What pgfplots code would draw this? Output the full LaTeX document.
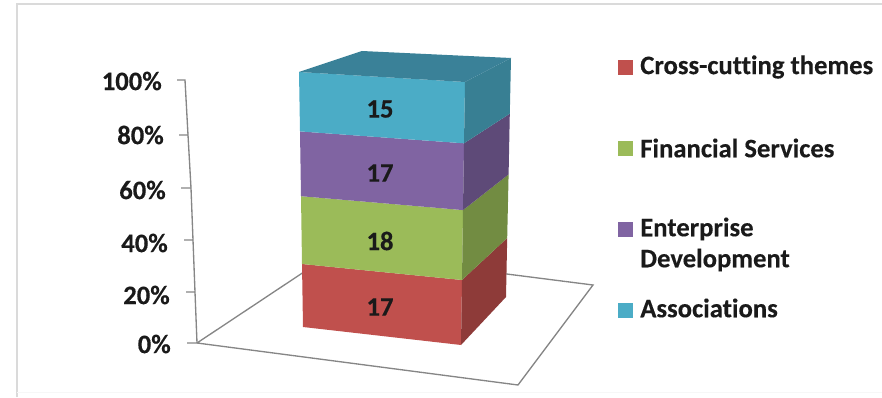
\documentclass[border=0pt]{standalone}
\usepackage{fontspec}
\setmainfont{Carlito}[FakeBold=0.3, Ligatures=NoCommon]
\usepackage{pgfplots}
\pgfplotsset{compat=1.18}
\definecolor{redF}{HTML}{C0504D}\definecolor{redS}{HTML}{8E3B39}
\definecolor{greenF}{HTML}{9BBB59}\definecolor{greenS}{HTML}{728C42}
\definecolor{purpleF}{HTML}{8064A2}\definecolor{purpleS}{HTML}{5E4A78}
\definecolor{blueF}{HTML}{4BACC6}\definecolor{blueS}{HTML}{387F93}
\definecolor{blueT}{HTML}{3A8198}
\definecolor{axisgray}{HTML}{868686}
\definecolor{framegray}{HTML}{DADADA}
\definecolor{textdark}{HTML}{1A1A1A}
\newcommand{\lbl}[1]{\textcolor{textdark}{\fontsize{20}{20}\selectfont\bfseries #1}}
\begin{document}
\begin{tikzpicture}
\begin{axis}[
  hide axis, clip=false,
  x={(0.75pt,0pt)}, y={(0pt,0.75pt)}, z={(0pt,1.9125pt)},
  xmin=0, xmax=882, ymin=0, ymax=142, zmin=0, zmax=100,
  every axis plot/.append style={mark=none},
]
\coordinate (pagesw) at (axis cs:0,0,0);
\coordinate (pagene) at (axis cs:882,397,0);
% chart frame
\addplot3[framegray, line width=0.9pt] coordinates {(17,0,0) (17,393,0) (882,393,0)};
\addplot3[black!3, line width=0.6pt] coordinates {(17,5,0) (882,5,0)};
% floor of the plot
\addplot3[axisgray, line width=1pt] coordinates {(197,54,0) (334,145,0) (593,112,0) (518,12,0) (197,54,0)};
% value axis with its ticks, z in percent
\addplot3[axisgray, line width=1pt] coordinates {
 (185,62,100) (177,62,100) (185,62,100)
 (188,58,80) (179,58,80) (188,58,80)
 (191,56,60) (181,56,60) (191,56,60)
 (193,55,40) (184,55,40) (193,55,40)
 (195,54,20) (186,54,20) (195,54,20)
 (197,54,0) (187,54,0)};
% stacked column: shares 17, 18, 17, 15 of 67, cumulated in z
\addplot3[draw=none, fill=redF] coordinates {(303,70,0) (461,52,0) (462,52.31,25.37) (302,68.31,25.37)} -- cycle;
\addplot3[draw=none, fill=redS] coordinates {(461,52,0) (506,100,0) (507.2,94.31,25.37) (462,52.31,25.37)} -- cycle;
\addplot3[draw=none, fill=greenF] coordinates {(302,68.31,25.37) (462,52.31,25.37) (463,53.69,52.24) (301,67.59,52.24)} -- cycle;
\addplot3[draw=none, fill=greenS] coordinates {(462,52.31,25.37) (507.2,94.31,25.37) (508.6,89.39,52.24) (463,53.69,52.24)} -- cycle;
\addplot3[draw=none, fill=purpleF] coordinates {(301,67.59,52.24) (463,53.69,52.24) (464,55.79,77.61) (300,67.69,77.61)} -- cycle;
\addplot3[draw=none, fill=purpleS] coordinates {(463,53.69,52.24) (508.6,89.39,52.24) (509.8,85.39,77.61) (464,55.79,77.61)} -- cycle;
\addplot3[draw=none, fill=blueF] coordinates {(300,67.69,77.61) (464,55.79,77.61) (465,60,100) (299,70,100)} -- cycle;
\addplot3[draw=none, fill=blueS] coordinates {(464,55.79,77.61) (509.8,85.39,77.61) (511,84,100) (465,60,100)} -- cycle;
\addplot3[draw=none, fill=blueT] coordinates {(299,70,100) (465,60,100) (511,84,100) (362,91,100)} -- cycle;
% legend keys
\addplot3[only marks, mark=square*, mark size=5.4pt, redF, mark options={draw=none}] coordinates {(625.5,330,0)};
\addplot3[only marks, mark=square*, mark size=5.4pt, greenF, mark options={draw=none}] coordinates {(625.5,249,0)};
\addplot3[only marks, mark=square*, mark size=5.4pt, purpleF, mark options={draw=none}] coordinates {(625.5,168,0)};
\addplot3[only marks, mark=square*, mark size=5.4pt, blueF, mark options={draw=none}] coordinates {(625.5,87,0)};
% value axis labels
\node[anchor=east, inner sep=0pt] at (axis cs:162,316,0) {\lbl{100\%}};
\node[anchor=east, inner sep=0pt] at (axis cs:164,262,0) {\lbl{80\%}};
\node[anchor=east, inner sep=0pt] at (axis cs:166,207,0) {\lbl{60\%}};
\node[anchor=east, inner sep=0pt] at (axis cs:168,154,0) {\lbl{40\%}};
\node[anchor=east, inner sep=0pt] at (axis cs:170,102,0) {\lbl{20\%}};
\node[anchor=east, inner sep=0pt] at (axis cs:171,53,0) {\lbl{0\%}};
% segment value labels
\node[inner sep=0pt] at (axis cs:380,288,0) {\lbl{15}};
\node[inner sep=0pt] at (axis cs:380,224,0) {\lbl{17}};
\node[inner sep=0pt] at (axis cs:380,156,0) {\lbl{18}};
\node[inner sep=0pt] at (axis cs:380,90,0) {\lbl{17}};
% legend entries
\node[anchor=west, inner sep=0pt] at (axis cs:640,330,0) {\lbl{Cross-cutting themes}};
\node[anchor=west, inner sep=0pt] at (axis cs:640,249,0) {\lbl{Financial Services}};
\node[anchor=west, inner sep=0pt] at (axis cs:640,168,0) {\lbl{Enterprise}};
\node[anchor=west, inner sep=0pt] at (axis cs:640,137,0) {\lbl{Development}};
\node[anchor=west, inner sep=0pt] at (axis cs:640,89,0) {\lbl{Associations}};
\end{axis}
\pgfresetboundingbox
\path[use as bounding box] (pagesw) rectangle (pagene);
\end{tikzpicture}
\end{document}
